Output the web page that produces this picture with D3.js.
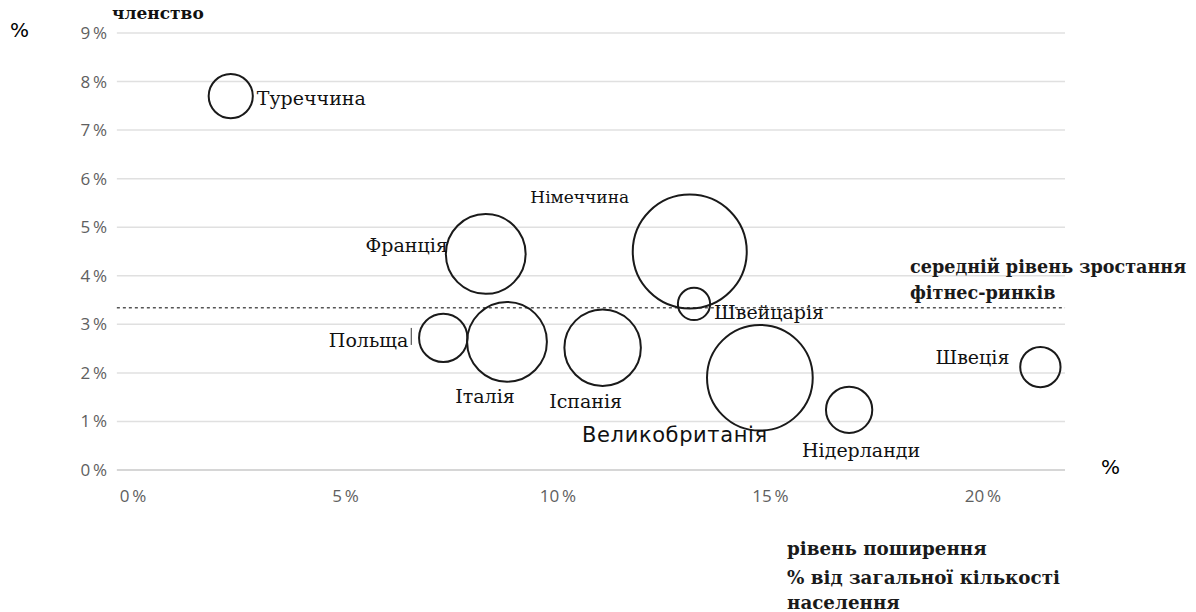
<!DOCTYPE html>
<html>
<head>
<meta charset="utf-8">
<script src="https://cdn.jsdelivr.net/npm/d3@7"></script>
<style>
  html, body { margin: 0; padding: 0; background: #fff; }
  svg { display: block; }
</style>
</head>
<body>
<svg id="chart" width="1196" height="612"></svg>
<script>
// Fitness markets: penetration (% of population) vs. membership growth (%), bubble = members
const countries   = ["Туреччина", "Франція", "Німеччина", "Швейцарія", "Польща", "Італія", "Іспанія", "Великобританія", "Нідерланди", "Швеція"];
const penetration = [2.3, 8.3, 13.1, 13.2, 7.3, 8.8, 11.05, 14.75, 16.85, 21.35];
const growth      = [7.7, 4.45, 4.5, 3.42, 2.72, 2.64, 2.52, 1.9, 1.24, 2.12];
const members     = [1.5, 4.9, 10.0, 0.8, 1.8, 4.9, 4.5, 8.6, 1.65, 1.25];
const avgGrowth   = 3.34;

const xTicks = [0, 5, 10, 15, 20];
const yTicks = [0, 1, 2, 3, 4, 5, 6, 7, 8, 9];

// label placement per country: [dx, dy, anchor, font, size]
const labelPos = [
  [26, 9, "start", "serif", 19],
  [-38, -2, "end", "serif", 19],
  [-110, -49, "middle", "serif", 17],
  [20, 15, "start", "serif", 19],
  [-35, 9, "end", "serif", 19],
  [-22, 61, "middle", "serif", 19],
  [-17, 60, "middle", "serif", 19],
  [-85, 64, "middle", "sans", 21],
  [12, 47, "middle", "serif", 19],
  [-31, -3, "end", "serif", 19]
];

const svg = d3.select("#chart");
const x = d3.scaleLinear().domain([0, 20]).range([133, 983]);
const y = d3.scaleLinear().domain([0, 9]).range([470, 33]);
const r = d3.scaleSqrt().domain([0, 10]).range([0, 57]);
const gridX0 = x(-0.38), gridX1 = x(21.93);

// horizontal gridlines
svg.append("g").selectAll("line").data(yTicks).join("line")
  .attr("x1", gridX0).attr("x2", gridX1)
  .attr("y1", d => y(d)).attr("y2", d => y(d))
  .attr("stroke", d => d === 0 ? "#c8c8c8" : "#e0e0e0")
  .attr("stroke-width", 1.5);

// y tick labels
const sansTick = "'Open Sans', 'DejaVu Sans', sans-serif";
svg.append("g").selectAll("text").data(yTicks).join("text")
  .attr("x", 107).attr("y", d => y(d) + 6)
  .attr("text-anchor", "end")
  .attr("font-family", sansTick).attr("font-size", 17)
  .attr("fill", "#606060")
  .text(d => d + "\u2009%");

// x tick labels
svg.append("g").selectAll("text").data(xTicks).join("text")
  .attr("x", d => x(d)).attr("y", 502)
  .attr("text-anchor", "middle")
  .attr("font-family", sansTick).attr("font-size", 17)
  .attr("fill", "#606060")
  .text(d => d + "\u2009%");

// average growth reference line
svg.append("line")
  .attr("x1", gridX0).attr("x2", gridX1)
  .attr("y1", y(avgGrowth)).attr("y2", y(avgGrowth))
  .attr("stroke", "#555").attr("stroke-width", 1.6)
  .attr("stroke-dasharray", "3,3");

// bubbles
const data = countries.map((c, i) => ({ c, px: penetration[i], g: growth[i], m: members[i], lp: labelPos[i] }));
svg.append("g").selectAll("circle").data(data).join("circle")
  .attr("cx", d => x(d.px)).attr("cy", d => y(d.g)).attr("r", d => r(d.m))
  .attr("fill", "none").attr("stroke", "#1a1a1a").attr("stroke-width", 2);

// country labels
const serif = "'DejaVu Serif', 'Liberation Serif', serif";
svg.append("g").selectAll("text").data(data).join("text")
  .attr("x", d => x(d.px) + d.lp[0]).attr("y", d => y(d.g) + d.lp[1])
  .attr("text-anchor", d => d.lp[2])
  .attr("font-family", d => d.lp[3] === "sans" ? "'DejaVu Sans', sans-serif" : serif)
  .attr("font-size", d => d.lp[4])
  .attr("letter-spacing", d => d.lp[3] === "sans" ? 0.6 : 0)
  .attr("fill", "#111")
  .text(d => d.c);

// small leader mark next to the Poland label
svg.append("line")
  .attr("x1", x(penetration[4]) - 32).attr("x2", x(penetration[4]) - 32)
  .attr("y1", y(growth[4]) - 10).attr("y2", y(growth[4]) + 7)
  .attr("stroke", "#333").attr("stroke-width", 1);

// axis titles and notes
svg.append("text").attr("x", 10).attr("y", 37)
  .attr("font-family", "'DejaVu Sans', sans-serif").attr("font-size", 20).attr("fill", "#000").text("%");
svg.append("text").attr("x", 1101).attr("y", 474)
  .attr("font-family", "'DejaVu Sans', sans-serif").attr("font-size", 20).attr("fill", "#000").text("%");

svg.append("text").attr("x", 112).attr("y", 19)
  .attr("font-family", serif).attr("font-weight", "bold").attr("font-size", 17)
  .attr("fill", "#111").text("членство");

const note = svg.append("text").attr("font-family", serif).attr("font-weight", "bold")
  .attr("font-size", 17.6).attr("fill", "#1a1a1a");
note.append("tspan").attr("x", 910).attr("y", 273).text("середній рівень зростання");
note.append("tspan").attr("x", 910).attr("y", 299).text("фітнес-ринків");

const xt = svg.append("text").attr("font-family", serif).attr("font-weight", "bold")
  .attr("font-size", 18.3).attr("fill", "#1a1a1a");
xt.append("tspan").attr("x", 787).attr("y", 555).text("рівень поширення");
xt.append("tspan").attr("x", 787).attr("y", 584).text("% від загальної кількості");
xt.append("tspan").attr("x", 787).attr("y", 609).text("населення");
</script>
</body>
</html>
